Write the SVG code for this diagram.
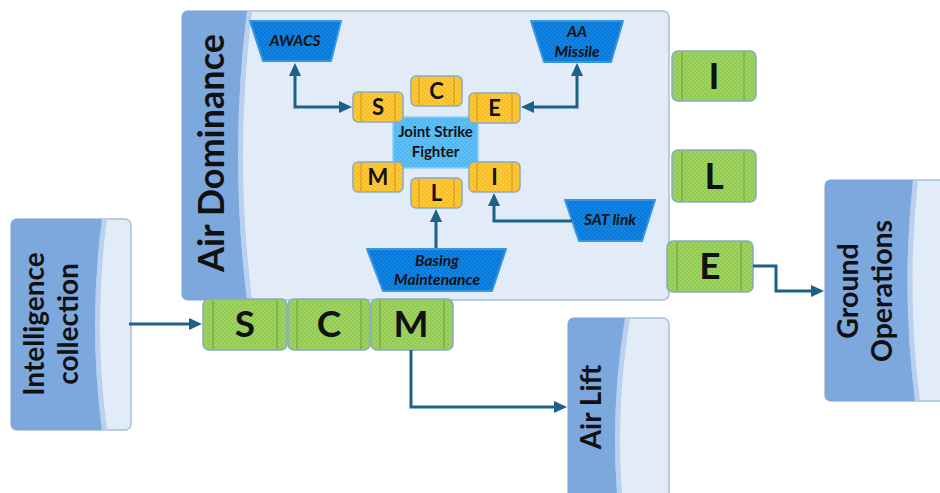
<svg xmlns="http://www.w3.org/2000/svg" width="940" height="493" viewBox="0 0 940 493">
<defs>
<pattern id="gdots" width="4" height="4" patternUnits="userSpaceOnUse"><rect width="4" height="4" fill="#9fd35f"/><circle cx="1" cy="1" r="0.8" fill="#86bd4a"/><circle cx="3" cy="3" r="0.8" fill="#86bd4a"/></pattern>
<pattern id="ydots" width="4" height="4" patternUnits="userSpaceOnUse"><rect width="4" height="4" fill="#ffc935"/><circle cx="1" cy="1" r="0.8" fill="#f0b020"/><circle cx="3" cy="3" r="0.8" fill="#f0b020"/></pattern>
<pattern id="bdots" width="4" height="4" patternUnits="userSpaceOnUse"><rect width="4" height="4" fill="#0d84e6"/><circle cx="1" cy="1" r="0.8" fill="#0a6bc2"/><circle cx="3" cy="3" r="0.8" fill="#0a6bc2"/></pattern>
<pattern id="ldots" width="4" height="4" patternUnits="userSpaceOnUse"><rect width="4" height="4" fill="#5fc0f6"/><circle cx="1" cy="1" r="0.8" fill="#40a9ee"/><circle cx="3" cy="3" r="0.8" fill="#40a9ee"/></pattern>
<marker id="arr" markerUnits="userSpaceOnUse" markerWidth="13" markerHeight="12" refX="1" refY="6" orient="auto-start-reverse" viewBox="0 0 13 12"><path d="M0,0 L13,6 L0,12 z" fill="#1d6088"/></marker>
<style>
.panel{fill:#e2ecf8;stroke:#a5bfdc;stroke-width:1.5}
.strip{fill:#7ca8de}
.band{fill:#b9d0ee}
.side{font-family:Lato,"Liberation Sans",sans-serif;font-weight:bold;fill:#111;text-anchor:middle}
.gbox{fill:url(#gdots);stroke:#86a9c4;stroke-width:1.5}
.gline{stroke:#7aaf48;stroke-width:1.5}
.ybox{fill:url(#ydots);stroke:#8aa9c2;stroke-width:1.5}
.yline{stroke:#cf9d2a;stroke-width:1.2}
.trap{fill:url(#bdots);stroke:#3a95e0;stroke-width:2;stroke-linejoin:round}
.lbl{font-family:Lato,"Liberation Sans",sans-serif;font-weight:bold;fill:#111;text-anchor:middle}
.it{font-style:italic;font-size:15.5px}
.conn{fill:none;stroke:#1d6088;stroke-width:3}
</style>
</defs>
<rect width="940" height="493" fill="#ffffff"/>

<g id="air-dominance">
<rect class="panel" x="182" y="11" width="487" height="289" rx="6"/>
<path class="band" d="M247,11 Q229,155.5 247,300 H252 Q234,155.5 252,11 Z"/>
<path class="strip" d="M188,11 H247 Q229,155.5 247,300 H188 Q182,300 182,294 V17 Q182,11 188,11 Z"/>
<text class="side" font-size="36" transform="translate(224,153) rotate(-90)">Air Dominance</text>
</g>

<g id="intelligence">
<rect class="panel" x="11" y="219" width="120" height="211" rx="6"/>
<path class="band" d="M102,219 Q88,324.5 102,430 H107 Q93,324.5 107,219 Z"/>
<path class="strip" d="M17,219 H102 Q88,324.5 102,430 H17 Q11,430 11,424 V225 Q11,219 17,219 Z"/>
<text class="side" font-size="28" transform="translate(44,324) rotate(-90)">Intelligence</text>
<text class="side" font-size="28" transform="translate(78,324) rotate(-90)">collection</text>
</g>

<g id="ground-operations">
<rect class="panel" x="825" y="180" width="130" height="221" rx="6"/>
<path class="band" d="M913,180 Q901,290 915,401 H920 Q906,290 918,180 Z"/>
<path class="strip" d="M831,180 H913 Q901,290 915,401 H831 Q825,401 825,395 V186 Q825,180 831,180 Z"/>
<text class="side" font-size="28.5" transform="translate(858,291) rotate(-90)">Ground</text>
<text class="side" font-size="28.5" transform="translate(892,291) rotate(-90)">Operations</text>
</g>

<g id="air-lift">
<rect class="panel" x="568" y="318" width="101" height="240" rx="6"/>
<path class="band" d="M625,318 Q605,440 625,560 H630 Q610,440 630,318 Z"/>
<path class="strip" d="M574,318 H625 Q605,440 625,560 H568 V324 Q568,318 574,318 Z"/>
<text class="side" font-size="28" transform="translate(601,407) rotate(-90)">Air Lift</text>
</g>

<g id="awacs">
<polygon class="trap" points="250,21 341,21 331,61 263,61"/>
<text class="lbl it" x="295" y="46">AWACS</text>
</g>
<g id="aa-missile">
<polygon class="trap" points="531,21 623,21 611,62 544,62"/>
<text class="lbl it" x="577" y="37">AA</text>
<text class="lbl it" x="577" y="57">Missile</text>
</g>
<g id="sat-link">
<polygon class="trap" points="565,200 655,200 642,241 579,241"/>
<text class="lbl it" x="610" y="225">SAT link</text>
</g>
<g id="basing-maintenance">
<polygon class="trap" points="367,249 506,249 492,291 383,291"/>
<text class="lbl it" x="437" y="266">Basing</text>
<text class="lbl it" x="437" y="285">Maintenance</text>
</g>

<g id="jsf">
<rect x="393" y="117" width="85" height="51" fill="url(#ldots)" stroke="#9ccbea" stroke-width="1.5"/>
<text class="lbl" font-size="15" x="435.5" y="137">Joint Strike</text>
<text class="lbl" font-size="15" x="435.5" y="157">Fighter</text>
</g>

<g id="y-s"><rect class="ybox" x="353" y="92" width="50" height="30" rx="5"/><line class="yline" x1="361" y1="93" x2="361" y2="121"/><line class="yline" x1="395" y1="93" x2="395" y2="121"/><text class="lbl" font-size="22" x="378" y="115">S</text></g>
<g id="y-c"><rect class="ybox" x="411" y="76" width="51" height="30" rx="5"/><line class="yline" x1="419" y1="77" x2="419" y2="105"/><line class="yline" x1="454" y1="77" x2="454" y2="105"/><text class="lbl" font-size="22" x="436.5" y="99">C</text></g>
<g id="y-e"><rect class="ybox" x="469" y="93" width="51" height="30" rx="5"/><line class="yline" x1="477" y1="94" x2="477" y2="122"/><line class="yline" x1="512" y1="94" x2="512" y2="122"/><text class="lbl" font-size="22" x="494.5" y="116">E</text></g>
<g id="y-m"><rect class="ybox" x="353" y="162" width="50" height="30" rx="5"/><line class="yline" x1="361" y1="163" x2="361" y2="191"/><line class="yline" x1="395" y1="163" x2="395" y2="191"/><text class="lbl" font-size="22" x="378" y="185">M</text></g>
<g id="y-l"><rect class="ybox" x="411" y="178" width="51" height="30" rx="5"/><line class="yline" x1="419" y1="179" x2="419" y2="207"/><line class="yline" x1="454" y1="179" x2="454" y2="207"/><text class="lbl" font-size="22" x="436.5" y="201">L</text></g>
<g id="y-i"><rect class="ybox" x="469" y="162" width="51" height="30" rx="5"/><line class="yline" x1="477" y1="163" x2="477" y2="191"/><line class="yline" x1="512" y1="163" x2="512" y2="191"/><text class="lbl" font-size="22" x="494.5" y="185">I</text></g>

<g id="g-i"><rect class="gbox" x="672" y="51" width="84" height="50" rx="6"/><line class="gline" x1="682" y1="52" x2="682" y2="100"/><line class="gline" x1="744" y1="52" x2="744" y2="100"/><text class="lbl" font-size="37" x="714" y="89">I</text></g>
<g id="g-l"><rect class="gbox" x="672" y="150" width="84" height="52" rx="6"/><line class="gline" x1="682" y1="151" x2="682" y2="201"/><line class="gline" x1="744" y1="151" x2="744" y2="201"/><text class="lbl" font-size="37" x="714" y="189">L</text></g>
<g id="g-e"><rect class="gbox" x="667" y="241" width="86" height="51" rx="6"/><line class="gline" x1="677" y1="242" x2="677" y2="291"/><line class="gline" x1="741" y1="242" x2="741" y2="291"/><text class="lbl" font-size="37" x="710" y="279">E</text></g>
<g id="g-s"><rect class="gbox" x="203" y="299" width="84" height="51" rx="6"/><line class="gline" x1="213" y1="300" x2="213" y2="349"/><line class="gline" x1="277" y1="300" x2="277" y2="349"/><text class="lbl" font-size="37" x="245" y="337">S</text></g>
<g id="g-c"><rect class="gbox" x="288" y="299" width="82" height="51" rx="6"/><line class="gline" x1="297" y1="300" x2="297" y2="349"/><line class="gline" x1="361" y1="300" x2="361" y2="349"/><text class="lbl" font-size="37" x="329" y="337">C</text></g>
<g id="g-m"><rect class="gbox" x="371" y="299" width="82" height="51" rx="6"/><line class="gline" x1="380" y1="300" x2="380" y2="349"/><line class="gline" x1="444" y1="300" x2="444" y2="349"/><text class="lbl" font-size="37" x="411" y="337">M</text></g>

<g id="connectors">
<path class="conn" d="M295,75 V107 H340" marker-start="url(#arr)" marker-end="url(#arr)"/>
<path class="conn" d="M577,75 V107 H533" marker-start="url(#arr)" marker-end="url(#arr)"/>
<path class="conn" d="M436,248 V221" marker-end="url(#arr)"/>
<path class="conn" d="M572,221 H494 V205" marker-end="url(#arr)"/>
<path class="conn" d="M129,324 H190" marker-end="url(#arr)"/>
<path class="conn" d="M411,350 V407 H555" marker-end="url(#arr)"/>
<path class="conn" d="M753,266 H776 V291 H812" marker-end="url(#arr)"/>
</g>
</svg>
